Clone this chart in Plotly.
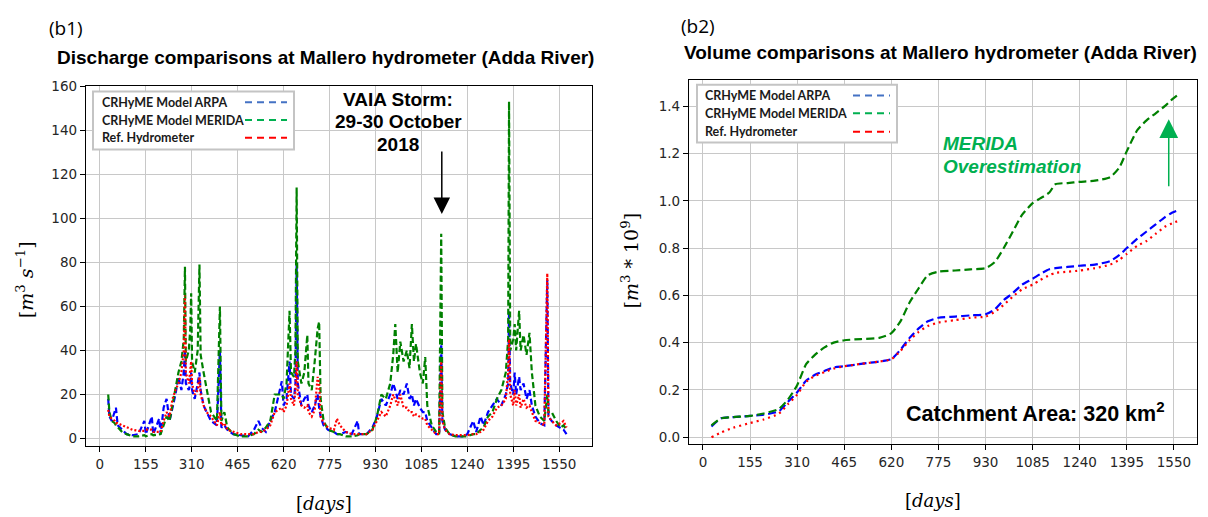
import plotly.graph_objects as go

# ---------------- Discharge (b1) ----------------
q_days = [28, 32, 40, 50, 54, 60, 75, 90, 110, 130, 150, 155, 175, 180, 200, 205, 215, 225, 235, 245,
          255, 265, 275, 283, 287, 290, 300, 305, 308, 311, 320, 330, 336, 340, 350, 360, 375, 395, 405, 410,
          420, 430, 450, 475, 500, 520, 535, 545, 560, 575, 590, 614, 620, 630, 640, 645, 655, 660, 664, 668,
          680, 690, 700, 704, 715, 725, 735, 740, 745, 755, 770, 790, 800, 810, 830, 850, 870, 875, 900, 920,
          935, 950, 965, 980, 990, 997, 1005, 1014, 1025, 1036, 1045, 1053, 1060, 1067, 1080, 1090, 1098, 1105, 1120, 1135,
          1145, 1152, 1156, 1165, 1180, 1200, 1225, 1240, 1260, 1270, 1285, 1295, 1310, 1325, 1340, 1355, 1370, 1378, 1381, 1385,
          1395, 1400, 1405, 1415, 1420, 1430, 1440, 1450, 1458, 1470, 1485, 1500, 1510, 1514, 1525, 1540, 1555, 1565, 1575]
q_arpa = [18, 10, 8, 12, 14, 6, 4, 2, 1.5, 2, 8, 2, 10, 2, 9, 2, 14, 18, 8, 14,
          20, 28, 22, 30, 40, 25, 22, 25, 30, 22, 18, 25, 30, 22, 15, 12, 8, 6, 40, 5,
          6, 4, 2, 1.5, 1, 4, 8, 5, 3, 8, 12, 26, 15, 18, 35, 20, 18, 25, 80, 25,
          15, 18, 20, 15, 12, 15, 20, 14, 10, 6, 4, 3, 2, 2, 3, 2, 8, 2, 2, 5,
          10, 18, 15, 20, 25, 22, 18, 22, 20, 25, 18, 20, 15, 18, 14, 12, 12, 8, 5, 2,
          2, 45, 8, 4, 2, 1, 1, 2, 8, 3, 10, 6, 12, 15, 18, 15, 20, 25, 58, 25,
          20, 30, 20, 28, 22, 25, 18, 22, 15, 10, 7, 6, 72, 10, 8, 6, 5, 4, 2]
q_merida = [20, 12, 8, 7, 6, 5, 3, 2, 1, 1, 1.5, 1, 2, 1.5, 2, 2, 6, 10, 8, 15,
            22, 30, 35, 45, 78, 35, 40, 50, 66, 35, 30, 40, 79, 38, 30, 22, 12, 8, 60, 8,
            12, 5, 2, 1, 1, 2, 4, 3, 5, 8, 20, 20, 18, 25, 58, 30, 28, 40, 114, 35,
            25, 30, 47, 25, 22, 35, 50, 53, 18, 8, 4, 3, 2, 2, 1, 1, 1.5, 2, 2, 4,
            10, 20, 18, 25, 38, 52, 30, 44, 35, 40, 32, 52, 35, 43, 30, 25, 37, 15, 6, 3,
            2, 93, 12, 5, 2, 1, 1, 1, 2, 2, 4, 5, 10, 12, 18, 22, 30, 45, 153, 40,
            45, 52, 40, 58, 40, 47, 38, 48, 30, 15, 10, 8, 20, 12, 12, 8, 5, 6, 4]
q_ref = [13, 10, 9, 8, 7, 7, 6, 5, 4, 3.5, 3.5, 4, 4, 3, 3, 3, 8, 12, 10, 18,
         22, 25, 30, 40, 65, 30, 25, 30, 35, 25, 20, 22, 28, 20, 15, 12, 10, 6, 12, 6,
         7, 4, 3, 2, 2, 2, 3, 3, 4, 6, 12, 14, 12, 15, 25, 18, 15, 22, 35, 20,
         15, 14, 15, 12, 10, 13, 28, 25, 10, 7, 5, 4, 9, 6, 3, 2, 2, 2, 2, 4,
         8, 12, 10, 15, 20, 18, 15, 20, 14, 14, 12, 12, 10, 11, 10, 9, 9, 6, 4, 2,
         2, 35, 8, 4, 2, 1.5, 1.5, 1.5, 2, 2, 3, 4, 8, 10, 14, 15, 18, 30, 45, 20,
         15, 22, 15, 20, 14, 18, 14, 15, 12, 8, 7, 6, 75, 10, 8, 6, 7, 8, 5]

# ---------------- Volume (b2) ----------------
v_days = [28, 60, 100, 155, 200, 250, 280, 310, 340, 370, 400, 430, 465, 520, 580, 620, 650, 680, 710, 740,
          775, 830, 880, 930, 960, 990, 1020, 1050, 1085, 1110, 1140, 1160, 1200, 1240, 1290, 1340, 1370, 1395, 1430, 1460,
          1490, 1520, 1545, 1565]
v_arpa = [0.045, 0.08, 0.085, 0.09, 0.095, 0.11, 0.15, 0.19, 0.24, 0.265, 0.28, 0.295, 0.30, 0.31, 0.32, 0.33, 0.37, 0.42, 0.46, 0.49,
          0.505, 0.51, 0.515, 0.52, 0.54, 0.58, 0.61, 0.645, 0.67, 0.69, 0.71, 0.715, 0.72, 0.725, 0.73, 0.745, 0.77, 0.80, 0.84, 0.87,
          0.90, 0.93, 0.95, 0.96]
v_merida = [0.05, 0.08, 0.085, 0.09, 0.10, 0.12, 0.16, 0.22, 0.31, 0.35, 0.38, 0.40, 0.41, 0.415, 0.42, 0.44, 0.49, 0.57, 0.63, 0.685,
            0.70, 0.705, 0.71, 0.715, 0.74, 0.80, 0.87, 0.94, 0.99, 1.01, 1.035, 1.07, 1.075, 1.08, 1.085, 1.10, 1.14, 1.21, 1.30, 1.34,
            1.37, 1.40, 1.43, 1.45]
v_ref = [0.0, 0.02, 0.04, 0.06, 0.075, 0.10, 0.14, 0.18, 0.235, 0.26, 0.275, 0.29, 0.30, 0.31, 0.32, 0.33, 0.365, 0.41, 0.445, 0.47,
         0.485, 0.495, 0.505, 0.51, 0.53, 0.56, 0.595, 0.625, 0.645, 0.665, 0.685, 0.695, 0.70, 0.705, 0.715, 0.73, 0.75, 0.775, 0.81, 0.83,
         0.86, 0.89, 0.905, 0.915]

series_names = ["CRHyME Model ARPA", "CRHyME Model MERIDA", "Ref. Hydrometer"]
plot_colors = ["#0000ff", "#008000", "#ff0000"]
legend_colors = ["#4472C4", "#00B050", "#FF0000"]
x_ticks = [0, 155, 310, 465, 620, 775, 930, 1085, 1240, 1395, 1550]

W, H = 1208, 517
def px(x):
    return x / W
def py(y):
    return 1 - y / H

fig = go.Figure()
left_dash = ["6px,3px", "6px,3px", "2px,2px"]
for vals, c, d, n in zip([q_arpa, q_merida, q_ref], plot_colors, left_dash, series_names):
    fig.add_trace(go.Scatter(x=q_days, y=vals, mode="lines", name=n, showlegend=False,
                             line=dict(color=c, width=2.2, dash=d), xaxis="x", yaxis="y"))
right_dash = ["8px,4px", "8px,4px", "2px,4px"]
for vals, c, d, n in zip([v_arpa, v_merida, v_ref], plot_colors, right_dash, series_names):
    fig.add_trace(go.Scatter(x=v_days, y=vals, mode="lines", name=n, showlegend=False,
                             line=dict(color=c, width=2.2, dash=d, shape="spline", smoothing=0.6),
                             xaxis="x2", yaxis="y2"))

axis_common = dict(showline=True, linecolor="black", linewidth=1.3, mirror=True,
                   showgrid=True, gridcolor="#c8c8c8", gridwidth=1.2,
                   ticks="outside", ticklen=5, tickcolor="black", zeroline=False,
                   tickfont=dict(family="DejaVu Sans", size=13.5, color="#262626"))

fig.update_layout(
    width=W, height=H, margin=dict(l=0, r=0, t=0, b=0),
    paper_bgcolor="white", plot_bgcolor="white", showlegend=False,
    xaxis=dict(domain=[px(86), px(592)], range=[-47, 1661], tickvals=x_ticks, anchor="y", **axis_common),
    yaxis=dict(domain=[py(446), py(79)], range=[-3.5, 160.3], tickvals=list(range(0, 161, 20)), anchor="x", **axis_common),
    xaxis2=dict(domain=[px(689), px(1197)], range=[-46, 1626], tickvals=x_ticks, anchor="y2", **axis_common),
    yaxis2=dict(domain=[py(444), py(73)], range=[-0.03, 1.512], tickvals=[0, 0.2, 0.4, 0.6, 0.8, 1.0, 1.2, 1.4],
                tickformat=".1f", anchor="x2", **axis_common),
)

ann = []
shapes = []

def text_ann(text, x, y, size, family="Liberation Sans", color="black", weight="normal", style="normal",
             xanchor="center", angle=0):
    ann.append(dict(text=text, x=px(x), y=py(y), xref="paper", yref="paper", xanchor=xanchor, yanchor="middle",
                    showarrow=False, textangle=angle, align="center" if xanchor == "center" else "left",
                    font=dict(family=family, size=size, color=color, weight=weight, style=style)))

# Panel labels and titles
text_ann("(b1)", 47, 20, 19, family="Open Sans", xanchor="left")
text_ann("Discharge comparisons at Mallero hydrometer (Adda River)", 325, 50, 19, weight="bold")
text_ann("(b2)", 679, 18, 19, family="Open Sans", xanchor="left")
text_ann("Volume comparisons at Mallero hydrometer (Adda River)", 940, 45, 19, weight="bold")
# Axis titles
text_ann("[<i>m</i><sup>3</sup> <i>s</i><sup>−1</sup>]", 25, 277, 19, family="DejaVu Serif", angle=-90)
text_ann("[<i>m</i><sup>3</sup> * 10<sup>9</sup>]", 630, 257, 19, family="DejaVu Serif", angle=-90)
text_ann("[<i>days</i>]", 324, 504, 18, family="DejaVu Serif")
text_ann("[<i>days</i>]", 933, 501, 18, family="DejaVu Serif")

# VAIA storm annotation (one line per annotation)
text_ann("VAIA Storm:", 398, 93, 19, weight="bold")
text_ann("29-30 October", 398, 116, 19, weight="bold")
text_ann("2018", 398, 139, 19, weight="bold")
ann.append(dict(text="", x=1154, y=102, xref="x", yref="y", ax=1154, ay=131, axref="x", ayref="y",
                showarrow=True, arrowhead=2, arrowsize=2.2, arrowwidth=1.5, arrowcolor="black"))
# MERIDA overestimation
text_ann("MERIDA", 941, 138, 19, color="#00B050", weight="bold", style="italic", xanchor="left")
text_ann("Overestimation", 941, 161, 19, color="#00B050", weight="bold", style="italic", xanchor="left")
ann.append(dict(text="", x=1533, y=1.345, xref="x2", yref="y2", ax=1533, ay=1.055, axref="x2", ayref="y2",
                showarrow=True, arrowhead=2, arrowsize=2.5, arrowwidth=1.5, arrowcolor="#00B050"))
text_ann("Catchment Area: 320 km<sup>2</sup>", 904, 411, 21.5, weight="bold", xanchor="left")

# Manual legends (text left, sample right)
def add_legend(box, rows, text_x, sample_x0, sample_x1):
    x0, y0, x1, y1 = box
    shapes.append(dict(type="rect", xref="paper", yref="paper", x0=px(x0), x1=px(x1), y0=py(y1), y1=py(y0),
                       line=dict(color="#c4c4c4", width=2), fillcolor="white", layer="above"))
    for name, col, ry in zip(series_names, legend_colors, rows):
        text_ann(name, text_x, ry, 12.5, family="Lato", color="#1a1a1a", weight="bold", xanchor="left")
        shapes.append(dict(type="line", xref="paper", yref="paper", x0=px(sample_x0), x1=px(sample_x1),
                           y0=py(ry), y1=py(ry), line=dict(color=col, width=2, dash="7px,5px"), layer="above"))

add_legend((93, 85, 294, 144), [96, 114, 132], 100, 245, 287)
add_legend((697, 78, 897, 137), [89, 107, 126], 703, 853, 890)

fig.update_layout(annotations=ann, shapes=shapes)
fig.write_html("out.html")
